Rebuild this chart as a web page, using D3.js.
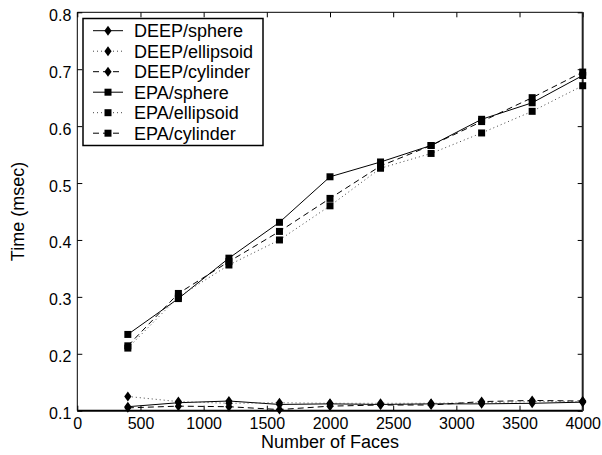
<!DOCTYPE html>
<html>
<head>
<meta charset="utf-8">
<script src="https://cdn.jsdelivr.net/npm/d3@7"></script>
<style>
body { margin: 0; background: #fff; }
svg { font-family: "Liberation Sans", Arial, sans-serif; }
</style>
</head>
<body>
<svg id="chart" width="602" height="455"></svg>
<script>
// number of faces
var faces = [400, 800, 1200, 1600, 2000, 2400, 2800, 3200, 3600, 4000];

// times in msec
var deepSphere    = [0.107, 0.114, 0.117, 0.111, 0.112, 0.111, 0.112, 0.112, 0.113, 0.115];
var deepEllipsoid = [0.125, 0.116, 0.113, 0.114, 0.113, 0.113, 0.113, 0.114, 0.116, 0.116];
var deepCylinder  = [0.105, 0.108, 0.107, 0.102, 0.108, 0.110, 0.110, 0.116, 0.118, 0.117];
var epaSphere     = [0.234, 0.297, 0.368, 0.431, 0.511, 0.537, 0.566, 0.612, 0.641, 0.689];
var epaEllipsoid  = [0.210, 0.300, 0.356, 0.400, 0.460, 0.526, 0.552, 0.588, 0.626, 0.671];
var epaCylinder   = [0.214, 0.306, 0.362, 0.415, 0.473, 0.530, 0.566, 0.608, 0.650, 0.695];

var seriesNames = ["DEEP/sphere", "DEEP/ellipsoid", "DEEP/cylinder", "EPA/sphere", "EPA/ellipsoid", "EPA/cylinder"];

var xTicks = [0, 500, 1000, 1500, 2000, 2500, 3000, 3500, 4000];
var yTicks = [0.1, 0.2, 0.3, 0.4, 0.5, 0.6, 0.7, 0.8];

var series = [
    {name: seriesNames[0], values: deepSphere,    dash: null,  marker: "diamond"},
    {name: seriesNames[1], values: deepEllipsoid, dash: "1,3", marker: "diamond"},
    {name: seriesNames[2], values: deepCylinder,  dash: "6,4", marker: "diamond"},
    {name: seriesNames[3], values: epaSphere,     dash: null,  marker: "square"},
    {name: seriesNames[4], values: epaEllipsoid,  dash: "1,3", marker: "square"},
    {name: seriesNames[5], values: epaCylinder,   dash: "6,4", marker: "square"}
];

var svg = d3.select("#chart"),
    MARGINS = {top: 12.3, right: 19.3, bottom: 44.3, left: 77.3},
    WIDTH = 602,
    HEIGHT = 455;

var xScale = d3.scaleLinear()
    .domain([0, 4000])
    .range([MARGINS.left, WIDTH - MARGINS.right]);

var yScale = d3.scaleLinear()
    .domain([0.1, 0.8])
    .range([HEIGHT - MARGINS.bottom, MARGINS.top]);

// axes, ticks pointing inwards
var xAxis = d3.axisBottom(xScale).tickValues(xTicks).tickSize(-5).tickPadding(10).tickFormat(d3.format("d"));
var xAxisTop = d3.axisTop(xScale).tickValues(xTicks).tickSize(-5).tickFormat("");
var yAxis = d3.axisLeft(yScale).tickValues(yTicks).tickSize(-5).tickPadding(6).tickFormat(d3.format(".1f"));
var yAxisRight = d3.axisRight(yScale).tickValues(yTicks).tickSize(-5).tickFormat("");

function styleAxis(g) {
    g.select(".domain").remove();
    g.selectAll("line").attr("stroke", "#000").attr("stroke-width", 1);
    g.selectAll("text").attr("fill", "#000").style("font-size", "16px").style("font-family", "'Liberation Sans', Arial, sans-serif");
}

svg.append("g")
    .attr("transform", "translate(0," + yScale(0.1) + ")")
    .call(xAxis)
    .call(styleAxis)
    .selectAll("text").attr("dy", "0.55em");

svg.append("g")
    .attr("transform", "translate(0," + yScale(0.8) + ")")
    .call(xAxisTop)
    .call(styleAxis);

svg.append("g")
    .attr("transform", "translate(" + xScale(0) + ",0)")
    .call(yAxis)
    .call(styleAxis)
    .selectAll("text").attr("dy", "0.5em");

svg.append("g")
    .attr("transform", "translate(" + xScale(4000) + ",0)")
    .call(yAxisRight)
    .call(styleAxis);

// plot frame
svg.append("line").attr("x1", xScale(0)).attr("x2", xScale(4000)).attr("y1", yScale(0.8)).attr("y2", yScale(0.8))
    .attr("stroke", "#000").attr("stroke-width", 1);
svg.append("line").attr("x1", xScale(0)).attr("x2", xScale(0)).attr("y1", yScale(0.8)).attr("y2", yScale(0.1))
    .attr("stroke", "#000").attr("stroke-width", 1);
svg.append("line").attr("x1", xScale(0)).attr("x2", xScale(4000)).attr("y1", yScale(0.1)).attr("y2", yScale(0.1))
    .attr("stroke", "#000").attr("stroke-width", 2);
svg.append("line").attr("x1", xScale(4000)).attr("x2", xScale(4000)).attr("y1", yScale(0.8)).attr("y2", yScale(0.1))
    .attr("stroke", "#222").attr("stroke-width", 2);

// axis titles
svg.append("text")
    .attr("x", (xScale(0) + xScale(4000)) / 2)
    .attr("y", 448)
    .style("text-anchor", "middle")
    .style("font-size", "18px")
    .text("Number of Faces");

svg.append("text")
    .attr("transform", "rotate(-90)")
    .attr("x", -(yScale(0.1) + yScale(0.8)) / 2)
    .attr("y", 24)
    .style("text-anchor", "middle")
    .style("font-size", "18px")
    .text("Time (msec)");

var lineGen = d3.line()
    .x(function (d, i) { return xScale(faces[i]); })
    .y(function (d) { return yScale(d); });

var diamond = "M0,-5L3.6,0L0,5L-3.6,0Z";
var square = "M-3.5,-3.5H3.5V3.5H-3.5Z";

function drawMarkers(g, s, points) {
    g.selectAll("path.mk")
        .data(points)
        .enter().append("path")
        .attr("class", "mk")
        .attr("d", s.marker === "diamond" ? diamond : square)
        .attr("transform", function (p) { return "translate(" + p[0] + "," + p[1] + ")"; })
        .attr("fill", "#000");
}

series.forEach(function (s) {
    var g = svg.append("g");
    g.append("path")
        .attr("d", lineGen(s.values))
        .attr("fill", "none")
        .attr("stroke", s.dash === "1,3" ? "#444" : "#000")
        .attr("stroke-width", 1)
        .attr("stroke-dasharray", s.dash);
    drawMarkers(g, s, s.values.map(function (v, i) { return [xScale(faces[i]), yScale(v)]; }));
});

// legend
var legend = svg.append("g");
legend.append("rect")
    .attr("x", 83).attr("y", 18.5)
    .attr("width", 180).attr("height", 127)
    .attr("fill", "#fff").attr("stroke", "#000").attr("stroke-width", 1.5);

series.forEach(function (s, i) {
    var y = 30.7 + i * 20.5;
    var row = legend.append("g");
    row.append("line")
        .attr("x1", 93).attr("x2", 123).attr("y1", y).attr("y2", y)
        .attr("stroke", s.dash === "1,3" ? "#444" : "#000")
        .attr("stroke-width", 1)
        .attr("stroke-dasharray", s.dash);
    drawMarkers(row, s, [[108, y]]);
    row.append("text")
        .attr("x", 134).attr("y", y)
        .attr("dy", "0.36em")
        .style("font-size", "18px")
        .text(s.name);
});
</script>
</body>
</html>
